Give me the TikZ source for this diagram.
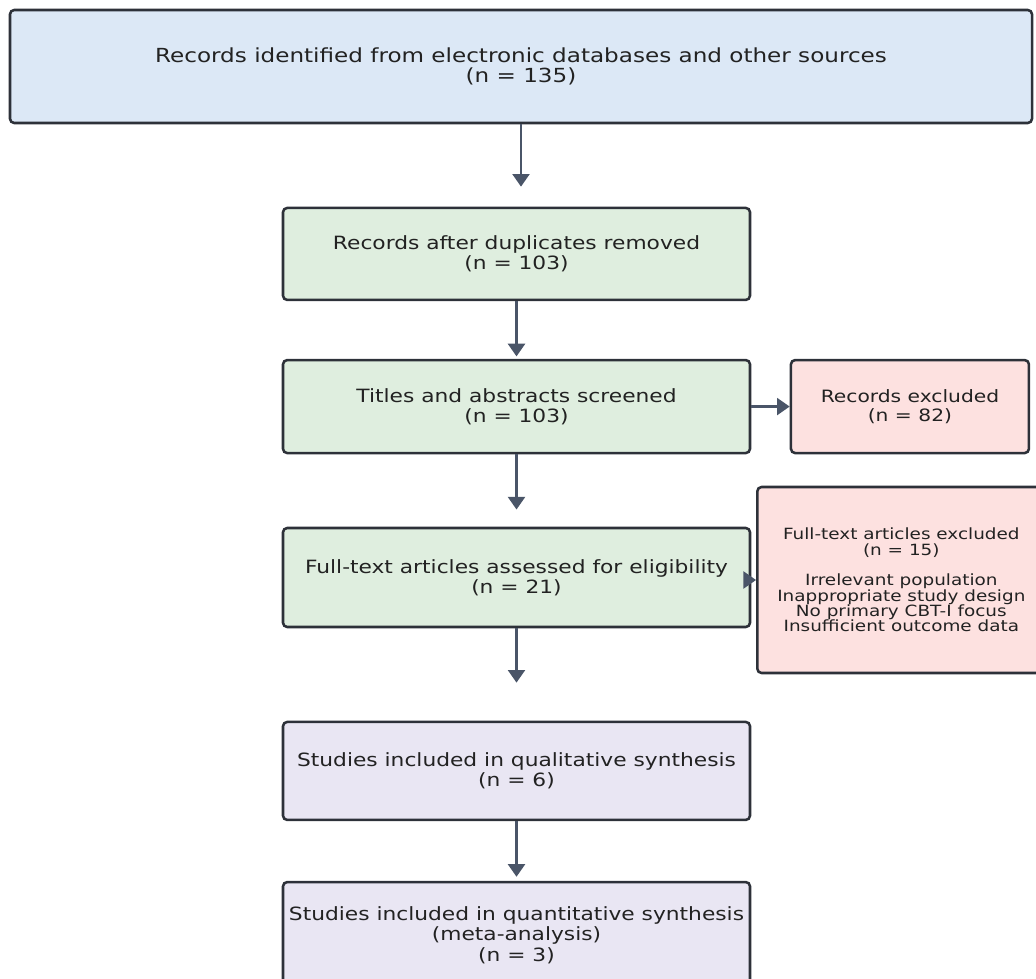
\documentclass[tikz,border=0pt]{standalone}
\usepackage{fontspec}
\setmainfont{DejaVu Sans}[FakeStretch=1.19]
\usetikzlibrary{arrows.meta, positioning}
\definecolor{MyBlue}{HTML}{DCE8F6}
\definecolor{MyGreen}{HTML}{DFEEDF}
\definecolor{MyRed}{HTML}{FDE1E0}
\definecolor{MyPurple}{HTML}{E9E6F3}
\definecolor{MyBorder}{HTML}{2D3139}
\definecolor{MyArrow}{HTML}{4A5568}
\definecolor{MyText}{HTML}{222222}

\begin{document}
\begin{tikzpicture}[
		every node/.style={font=\fontsize{13}{14.5}\selectfont, text=MyText, align=center, draw=MyBorder, line width=1.8pt, rectangle, rounded corners=3pt, inner sep=2pt},
		stage/.style={fill=MyGreen, minimum width=11.675cm},
		excluded/.style={fill=MyRed},
		included/.style={fill=MyPurple, minimum width=11.675cm},
		flow/.style={-{Triangle[length=9pt,width=12pt]}, line width=1.9pt, draw=MyArrow}
	]
	\useasboundingbox (0,0) rectangle (25.9,-24.45);

	\node (ident) [fill=MyBlue, minimum width=25.55cm, minimum height=2.825cm, font=\fontsize{13.8}{14.2}\selectfont] at (13.025,-1.6625) {Records identified from electronic databases and other sources\\(n = 135)};
	\node (dupl) [stage, below=2.06cm of ident, xshift=-0.1125cm, minimum height=2.3cm] {Records after duplicates removed\\(n = 103)};
	\node (screen) [stage, below=1.44cm of dupl, minimum height=2.325cm] {Titles and abstracts screened\\(n = 103)};
	\node (full) [stage, below=1.81cm of screen, minimum height=2.475cm] {Full-text articles assessed for eligibility\\(n = 21)};
	\node (qual) [included, below=2.31cm of full, minimum height=2.45cm] {Studies included in qualitative synthesis\\(n = 6)};
	\node (quant) [included, below=1.49cm of qual, minimum height=2.65cm] {Studies included in quantitative synthesis\\(meta-analysis)\\(n = 3)};

	\node (excl1) [excluded, right=0.96cm of screen, minimum width=5.95cm, minimum height=2.325cm, font=\fontsize{12.1}{14}\selectfont] {Records excluded\\(n = 82)};
	\node (excl2) [excluded, right=0.12cm of full, yshift=-0.0625cm, minimum width=7.2cm, minimum height=4.65cm, font=\fontsize{11}{10.9}\selectfont] {Full-text articles excluded\\(n = 15)\\[10.9pt]Irrelevant population\\Inappropriate study design\\No primary CBT-I focus\\Insufficient outcome data};

	\draw[flow, shorten >=0.5cm] (ident.south) -- (ident.south |- dupl.north);
	\draw[flow, shorten >=0.06cm] (dupl) -- (screen);
	\draw[flow, shorten >=0.43cm] (screen) -- (full);
	\draw[flow, shorten >=0.95cm] (full) -- (qual);
	\draw[flow, shorten >=0.1cm] (qual) -- (quant);
	\draw[flow] (screen) -- (excl1);
	\draw[flow] (excl2.west -| full.east) -- (excl2.west);
\end{tikzpicture}
\end{document}
